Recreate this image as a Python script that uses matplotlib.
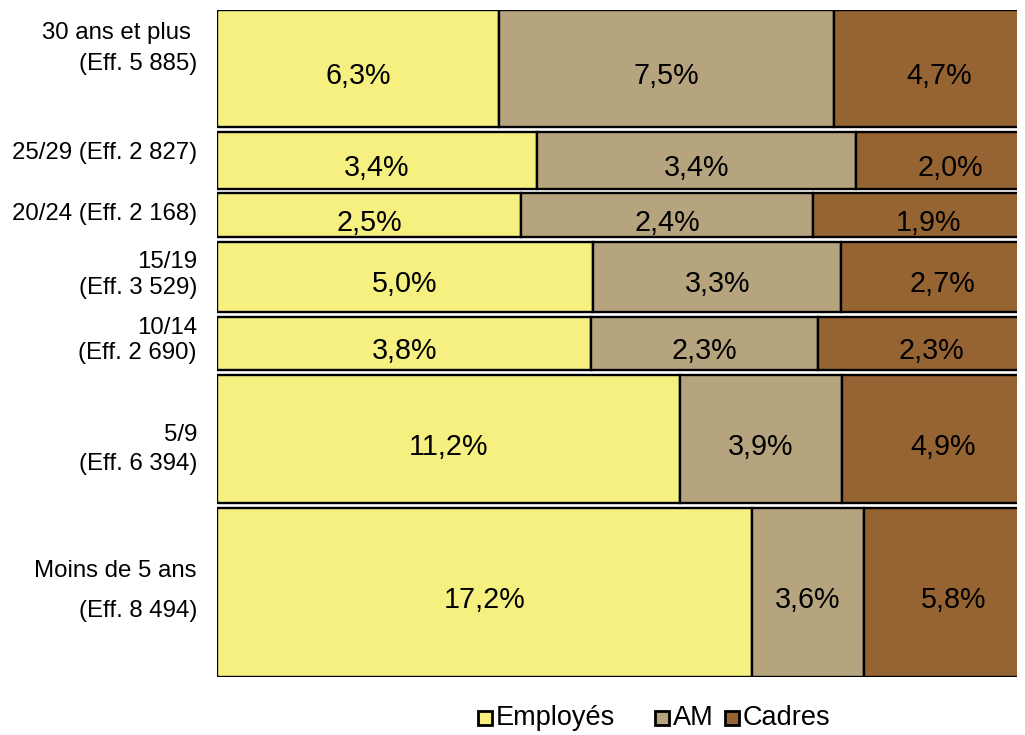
import matplotlib
matplotlib.use("Agg")
import matplotlib.pyplot as plt
import matplotlib.transforms as mtransforms
from matplotlib.patches import Rectangle
import numpy as np

# --- data (top row first) ---
groups = ["30 ans et plus \n(Eff. 5 885)", "25/29 (Eff. 2 827)", "20/24 (Eff. 2 168)",
          "15/19\n(Eff. 3 529)", "10/14\n(Eff. 2 690)", "5/9\n(Eff. 6 394)",
          "Moins de 5 ans\n(Eff. 8 494)"]
effectifs = [5885, 2827, 2168, 3529, 2690, 6394, 8494]
employes = [6.3, 3.4, 2.5, 5.0, 3.8, 11.2, 17.2]
am = [7.5, 3.4, 2.4, 3.3, 2.3, 3.9, 3.6]
cadres = [4.7, 2.0, 1.9, 2.7, 2.3, 4.9, 5.8]
series_names = ["Employés", "AM", "Cadres"]

# --- style ---
colors = ["#F5F080", "#B5A47E", "#966432"]
gap = 250
x_max = 96.7
label_offsets = [20, 7, 1, 2, 3, -10, 1]     # px upward shift of the row labels
label_spacing = [1.55, 1.2, 1.2, 1.25, 1.15, 1.4, 2.05]
legend_x = [478, 655, 725]                   # px, left edge of each legend square

plt.rcParams["font.family"] = ["Liberation Sans", "DejaVu Sans"]

W, H = 1025, 735
fig = plt.figure(figsize=(W / 100, H / 100), dpi=100)
ax = fig.add_axes([217 / W, 1 - 677 / H, 800 / W, 667 / H])

vals = np.array([employes, am, cadres])
totals = vals.sum(axis=0)
shares = vals / totals * 100
heights = np.array(effectifs, dtype=float)

# rows stacked from the bottom (last row at y=0)
n = len(groups)
bottoms = np.zeros(n)
y = 0.0
for i in range(n - 1, -1, -1):
    bottoms[i] = y
    y += heights[i] + gap
top = y - gap
centers = bottoms + heights / 2

left = np.zeros(n)
for k in range(3):
    ax.barh(centers, shares[k], left=left, height=heights, color=colors[k],
            edgecolor="black", linewidth=1.7)
    for i in range(n):
        ax.annotate(f"{vals[k][i]:.1f}%".replace(".", ","),
                    (left[i] + shares[k][i] / 2, centers[i]),
                    xytext=(0, -5.5), textcoords="offset points",
                    ha="center", va="center", fontsize=20.7, color="black",
                    annotation_clip=False)
    left += shares[k]

ax.set_xlim(0, x_max)
ax.set_ylim(0, top)
ax.axis("off")

for i in range(n):
    tr = ax.get_yaxis_transform() + mtransforms.ScaledTranslation(
        -20 / 100, label_offsets[i] / 100, fig.dpi_scale_trans)
    ax.text(0, centers[i], groups[i], transform=tr, ha="right", va="center",
            fontsize=17.3, linespacing=label_spacing[i], multialignment="right")

# legend drawn by hand to keep the uneven spacing of the original
sq = 14
ly = 718
for name, c, lx in zip(series_names, colors, legend_x):
    fig.patches.append(Rectangle((lx / W, (H - ly - sq / 2) / H), sq / W, sq / H,
                                 transform=fig.transFigure, facecolor=c,
                                 edgecolor="black", linewidth=2))
    fig.text((lx + sq + 4) / W, (H - ly) / H, name, ha="left", va="center",
             fontsize=19.5)

fig.savefig("out.png", dpi=100)
